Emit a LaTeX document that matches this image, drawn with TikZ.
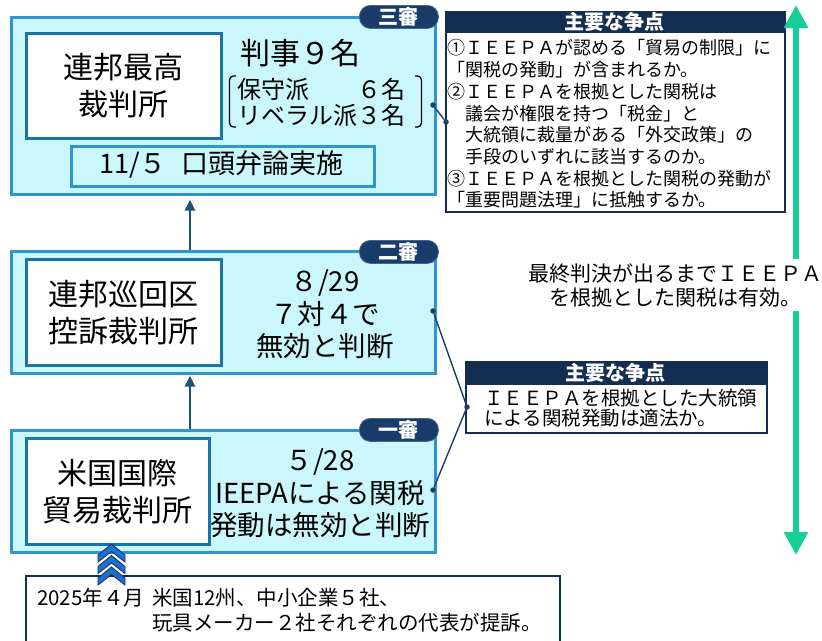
\documentclass[tikz,border=0pt]{standalone}
\usepackage{fontspec}
\setmainfont{Noto Sans CJK JP}
\usetikzlibrary{arrows.meta,calc}
\definecolor{boxfill}{RGB}{202,247,251}
\definecolor{boxline}{RGB}{48,148,206}
\definecolor{innerline}{RGB}{26,116,166}
\definecolor{navy}{RGB}{20,46,82}
\definecolor{badgefill}{RGB}{26,60,106}
\definecolor{badgeline}{RGB}{70,100,140}
\definecolor{connc}{RGB}{28,62,100}
\definecolor{arrowc}{RGB}{24,84,118}
\definecolor{mygreen}{RGB}{24,206,152}
\definecolor{chevfill}{RGB}{30,112,205}
\definecolor{chevline}{RGB}{20,55,105}
\newcommand\setfs[2]{\fontsize{#1}{#2}\selectfont}
\begin{document}
\begin{tikzpicture}[x=1pt,y=-1pt,
  court/.style={rectangle, draw=boxline, line width=2.6pt, fill=boxfill, anchor=north west, inner sep=0pt},
  innerbox/.style={rectangle, draw=innerline, line width=2.6pt, fill=white, anchor=north west, inner sep=0pt, align=center, font=\setfs{30}{37}},
  badge/.style={rectangle, rounded corners=11pt, draw=badgeline, line width=0.8pt, fill=badgefill, text=white, font=\setfs{20}{22}\bfseries, anchor=north west, inner sep=0pt, minimum width=79pt, minimum height=23pt},
  bigtxt/.style={align=center, inner sep=0pt, font=\setfs{27.5}{32.5}},
  issuebox/.style={rectangle, draw=navy, line width=2pt, fill=white, anchor=north west, inner sep=0pt},
  issuehead/.style={rectangle, fill=navy, text=white, anchor=north west, inner sep=0pt, font=\setfs{20}{22}\bfseries},
  dotc/.style={circle, fill=connc, inner sep=0pt, minimum size=5.5pt},
  connline/.style={draw=connc, line width=1.4pt},
  uparrow/.style={draw=arrowc, line width=2.2pt, -{Triangle[width=10pt,length=11pt]}},
  chev/.style={fill=chevfill, draw=chevline, line width=0.9pt, line join=miter}
]
\useasboundingbox (0,0) rectangle (822,640);

% ---- third instance (Supreme Court)
\node[court, minimum width=424pt, minimum height=177pt] (c3) at (10,16) {};
\node[innerbox, minimum width=195pt, minimum height=105pt] (sc) at (25,32) {連邦最高\\裁判所};
\node[font=\setfs{30}{34}, inner sep=0pt] (judges) at (300,53) {判事９名};
\node[align=left, inner sep=0pt, font=\setfs{24}{26}] (ideo) at (321,102) {保守派　　６名\\リベラル派３名};
\draw[line width=1.3pt, rounded corners=4pt] (236,76) -- (229.5,76) -- (229.5,127) -- (236,127);
\draw[line width=1.3pt, rounded corners=4pt] (415,76) -- (421.5,76) -- (421.5,127) -- (415,127);
\node[rectangle, draw=boxline, line width=2.6pt, fill=boxfill, anchor=north west, inner sep=0pt, minimum width=303pt, minimum height=40pt] (oral) at (70,145) {};
\node[font=\setfs{27}{30}, inner sep=0pt] (oraltxt) at (221.5,165) {11/５\hspace{0.55em}口頭弁論実施};
\node[badge] (b3) at (359,5) {三審};

% ---- second instance
\node[court, minimum width=424pt, minimum height=122pt] (c2) at (10,250) {};
\node[innerbox, minimum width=195pt, minimum height=106pt] (ca) at (25,258) {連邦巡回区\\控訴裁判所};
\node[bigtxt] (r2) at (325,314.5) {８/29\\７対４で\\無効と判断};
\node[badge] (b2) at (359,240) {二審};

% ---- first instance
\node[court, minimum width=424pt, minimum height=122pt] (c1) at (10,429) {};
\node[innerbox, minimum width=183pt, minimum height=106pt] (cit) at (25,437) {米国国際\\貿易裁判所};
\node[bigtxt] (r1) at (320,493.5) {５/28\\IEEPAによる関税\\発動は無効と判断};
\node[badge] (b1) at (359,418) {一審};

% ---- arrows between instances
\draw[uparrow] ([xshift=180pt]c2.north west) -- ([xshift=180pt,yshift=-4pt]c3.south west);
\draw[uparrow] ([xshift=180pt]c1.north west) -- ([xshift=180pt,yshift=-1pt]c2.south west);

% ---- issues box 1
\node[issuebox, minimum width=339pt, minimum height=200pt] (iss1) at (445,11) {};
\node[issuehead, minimum width=339pt, minimum height=22pt] (iss1h) at (445,11) {主要な争点};
\node[anchor=north west, align=left, inner sep=0pt, font=\setfs{18}{21.7}] (iss1t) at (447,39.5)
 {①ＩＥＥＰＡが認める「貿易の制限」に\\
  「関税の発動」が含まれるか。\\
  ②ＩＥＥＰＡを根拠とした関税は\\
  　議会が権限を持つ「税金」と\\
  　大統領に裁量がある「外交政策」の\\
  　手段のいずれに該当するのか。\\
  ③ＩＥＥＰＡを根拠とした関税の発動が\\
  「重要問題法理」に抵触するか。};

% ---- issues box 2
\node[issuebox, minimum width=301pt, minimum height=71pt] (iss2) at (465,361) {};
\node[issuehead, minimum width=301pt, minimum height=24pt] (iss2h) at (465,361) {主要な争点};
\node[anchor=north west, align=left, inner sep=0pt, font=\setfs{19.5}{20.5}] (iss2t) at (484,388.5)
 {ＩＥＥＰＡを根拠とした大統領\\による関税発動は適法か。};

% ---- connectors with dots
\node[dotc] (d3) at (433,105) {};
\node[dotc] (di1) at (446,122) {};
\node[dotc] (d2) at (433,311) {};
\node[dotc] (d1) at (433,490) {};
\node[dotc] (di2) at (467,407) {};
\draw[connline] (d3) -- (di1);
\draw[connline] (d2) -- (di2);
\draw[connline] (d1) -- (di2);

% ---- green double arrow
\coordinate (gtop) at (796,5);
\coordinate (gbot) at (796,555);
\draw[mygreen, line width=6pt, {Triangle[width=23pt,length=23pt]}-{Triangle[width=23pt,length=23pt]}] (gtop) -- (gbot);
\node[fill=white, align=center, inner xsep=1pt, inner ysep=4pt, font=\setfs{21}{24}] (valid) at (675,285) {最終判決が出るまでＩＥＥＰＡ\\を根拠とした関税は有効。};

% ---- bottom box
\node[rectangle, draw=navy, line width=2pt, fill=white, anchor=north west, inner sep=0pt, minimum width=534pt, minimum height=90pt] (suit) at (25,575) {};
\node[anchor=west, inner sep=0pt, font=\setfs{20.5}{25}] (suittxt) at (37,612.5)
 {\begin{tabular}{@{}p{115pt}@{}l@{}}2025年４月 & 米国12州、中小企業５社、\\ & 玩具メーカー２社それぞれの代表が提訴。\end{tabular}};

% ---- chevrons
\foreach \yy in {544,555.5,567} {
  \draw[chev] (98,\yy+11) -- (111.5,\yy) -- (125,\yy+11) -- (125,\yy+18) -- (111.5,\yy+7.5) -- (98,\yy+18) -- cycle;
}
\end{tikzpicture}
\end{document}
